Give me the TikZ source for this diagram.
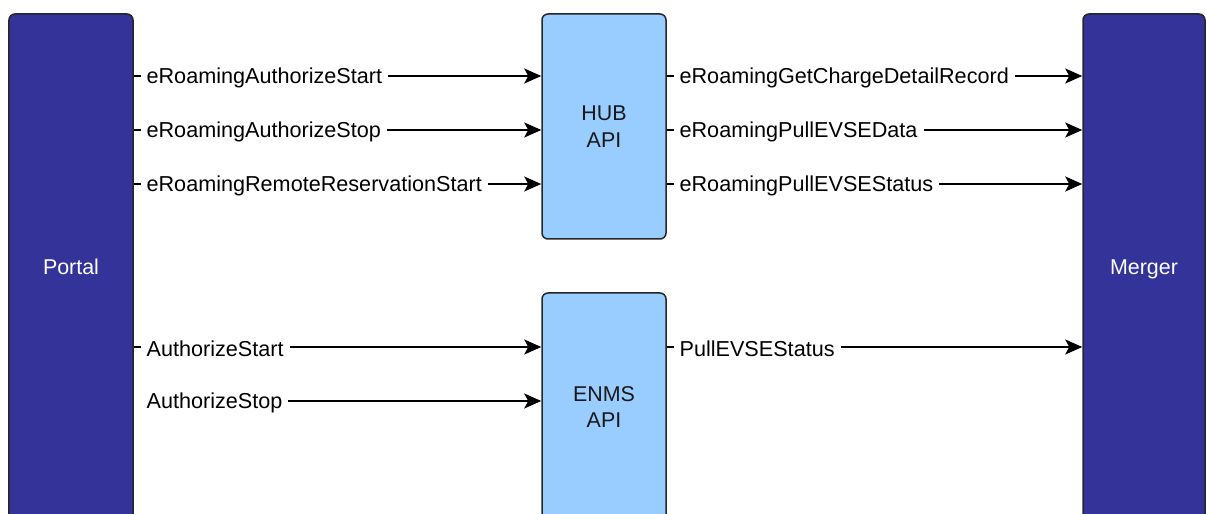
\documentclass[tikz,border=0pt]{standalone}
\usepackage{fontspec}
\setmainfont{Liberation Sans}
\usetikzlibrary{arrows.meta}
\definecolor{darkbox}{HTML}{333399}
\definecolor{lightbox}{HTML}{99CCFF}
\tikzset{
  sysbox/.style={draw=black!85, line width=1.5bp, rounded corners=6bp, fill=darkbox,
    text=white, font=\fontsize{21.5}{27}\selectfont, align=center, inner sep=0pt},
  apibox/.style={sysbox, fill=lightbox, text=black!90},
  conn/.style={line width=1.7bp, -{Stealth[length=17bp,width=15bp,inset=4bp]}},
  lblbase/.style={fill=white, inner xsep=6bp, inner ysep=2bp, anchor=west, pos=0,
    yshift=-2bp, font=\fontsize{21.7}{26}\selectfont},
  lbl/.style={lblbase, xshift=6bp},
  lblnotick/.style={lblbase, xshift=-0.5bp},
}
\begin{document}
\begin{tikzpicture}[x=1bp,y=-1bp]
\useasboundingbox (0,0) rectangle (1206,514);
\clip (0,0) rectangle (1206,514);
\node[sysbox, minimum width=124bp, minimum height=506bp] (portal) at (71,267) {Portal};
\node[sysbox, minimum width=122bp, minimum height=506bp, text depth=0pt] (merger) at (1144,267) {Merger};
\node[apibox, minimum width=124bp, minimum height=225bp] (hub) at (604,126.5) {HUB\\API};
\node[apibox, minimum width=124bp, minimum height=228bp] (enms) at (604,407) {ENMS\\API};
\coordinate (r1) at (0,76);
\coordinate (r2) at (0,130);
\coordinate (r3) at (0,184);
\coordinate (r4) at (0,347);
\coordinate (r5) at (0,401);
\draw[conn] (portal.east |- r1) -- (hub.west |- r1) node[lbl] {eRoamingAuthorizeStart};
\draw[conn] (portal.east |- r2) -- (hub.west |- r2) node[lbl] {eRoamingAuthorizeStop};
\draw[conn] (portal.east |- r3) -- (hub.west |- r3) node[lbl] {eRoamingRemoteReservationStart};
\draw[conn] (portal.east |- r4) -- (enms.west |- r4) node[lbl] {AuthorizeStart};
\draw[conn] (portal.east |- r5) -- (enms.west |- r5) node[lblnotick] {\hspace*{6.5bp}AuthorizeStop};
\draw[conn] (hub.east |- r1) -- (merger.west |- r1) node[lbl] {eRoamingGetChargeDetailRecord};
\draw[conn] (hub.east |- r2) -- (merger.west |- r2) node[lbl] {eRoamingPullEVSEData};
\draw[conn] (hub.east |- r3) -- (merger.west |- r3) node[lbl] {eRoamingPullEVSEStatus};
\draw[conn] (enms.east |- r4) -- (merger.west |- r4) node[lbl] {PullEVSEStatus};
\end{tikzpicture}
\end{document}
